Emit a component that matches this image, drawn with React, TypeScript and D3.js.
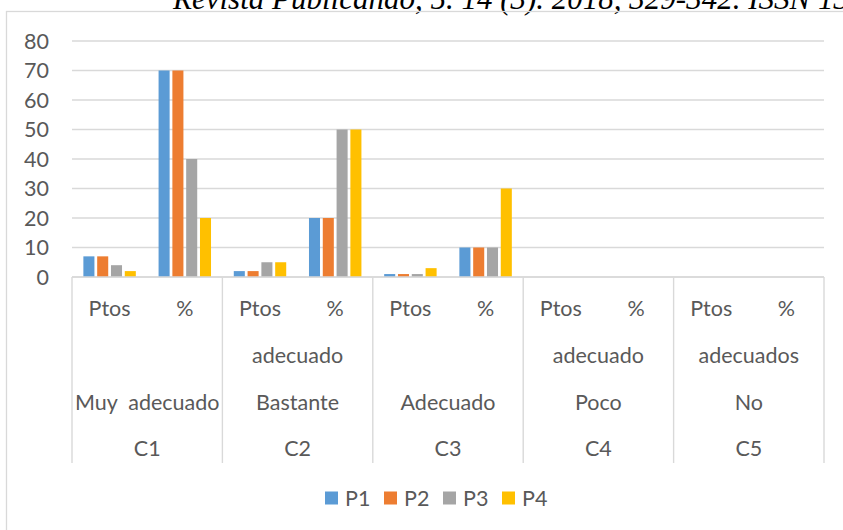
import React from 'react';
import * as d3 from 'd3';

// category labels (multi-level axis)
const groups = ['C1', 'C2', 'C3', 'C4', 'C5'];
const groupLine1 = ['', 'adecuado', '', 'adecuado', 'adecuados'];
const groupLine2 = ['Muy  adecuado', 'Bastante', 'Adecuado', 'Poco', 'No'];
const subLabels = ['Ptos', '%'];

// series values, one per sub-category (C1 Ptos, C1 %, C2 Ptos, ...)
const seriesNames = ['P1', 'P2', 'P3', 'P4'];
const p1 = [7, 70, 2, 20, 1, 10, 0, 0, 0, 0];
const p2 = [7, 70, 2, 20, 1, 10, 0, 0, 0, 0];
const p3 = [4, 40, 5, 50, 1, 10, 0, 0, 0, 0];
const p4 = [2, 20, 5, 50, 3, 30, 0, 0, 0, 0];
const yTicks = [0, 10, 20, 30, 40, 50, 60, 70, 80];

const colors = ['#5B9BD5', '#ED7D31', '#A5A5A5', '#FFC000'];
const textColor = '#595959';
const gridColor = '#d9d9d9';
const font = 'Lato, Calibri, sans-serif';
const fs = 21.5;

export default function App() {
  const width = 843, height = 530;
  const left = 72, right = 824, top = 41, bottom = 277;

  const series = [p1, p2, p3, p4];
  const slots = d3.range(groups.length * subLabels.length);

  const x = d3.scaleBand<number>().domain(slots).range([left, right]).padding(0);
  const xg = d3.scaleBand<string>().domain(groups).range([left, right]).padding(0);
  const inner = d3.scaleBand<string>()
    .domain(seriesNames)
    .range([10, x.bandwidth() - 10])
    .paddingInner(0.2)
    .paddingOuter(0.1);
  const y = d3.scaleLinear().domain([0, 80]).range([bottom, top]);

  const legendX = d3.scalePoint<string>().domain(seriesNames).range([325, 502]);

  return (
    <svg width={width} height={height} style={{ position: 'absolute', left: 0, top: 0 }}>
      <rect width={width} height={height} fill="#fff" />
      <text x={173} y={9} fontFamily="Liberation Serif, serif" fontStyle="italic" fontSize={31} fill="#000">
        Revista Publicando, 5. 14 (3). 2018, 329-342. ISSN 1390-9304
      </text>
      {/* chart area border */}
      <rect x={6.5} y={11.5} width={900} height={600} fill="none" stroke={gridColor} strokeWidth={1.3} />

      {/* gridlines and y labels */}
      {yTicks.map(t => (
        <g key={t}>
          <line x1={left} x2={right} y1={y(t)} y2={y(t)} stroke={gridColor} strokeWidth={1.4} />
          <text x={49} y={y(t)} dy="0.35em" textAnchor="end" fontFamily={font} fontSize={fs} fill={textColor}>{t}</text>
        </g>
      ))}

      {/* bars */}
      {series.map((vals, si) => (
        <g key={si} fill={colors[si]}>
          {vals.map((v, i) => (
            <rect key={i}
              x={(x(i) as number) + (inner(seriesNames[si]) as number)}
              y={y(v)}
              width={inner.bandwidth()}
              height={y(0) - y(v)} />
          ))}
        </g>
      ))}

      {/* category axis */}
      <line x1={left} x2={right} y1={bottom} y2={bottom} stroke={gridColor} strokeWidth={1.4} />
      {[...groups.map(g => xg(g) as number), right].map((gx, i) => (
        <line key={i} x1={gx} x2={gx} y1={bottom} y2={463} stroke={gridColor} strokeWidth={1.4} />
      ))}
      {slots.map(i => (
        <text key={i} x={(x(i) as number) + x.bandwidth() / 2} y={308} dy="0.35em" textAnchor="middle"
          fontFamily={font} fontSize={fs} fill={textColor}>{subLabels[i % 2]}</text>
      ))}
      {groups.map((g, i) => {
        const cx = (xg(g) as number) + xg.bandwidth() / 2;
        return (
          <g key={g} fontFamily={font} fontSize={fs} fill={textColor} textAnchor="middle">
            <text x={cx} y={355} dy="0.35em">{groupLine1[i]}</text>
            <text x={cx} y={402} dy="0.35em" style={{ whiteSpace: 'pre' }}>{groupLine2[i]}</text>
            <text x={cx} y={448} dy="0.35em">{g}</text>
          </g>
        );
      })}

      {/* legend */}
      {seriesNames.map((s, i) => (
        <g key={s} transform={`translate(${legendX(s)},498)`}>
          <rect x={0} y={-6.5} width={13} height={13} fill={colors[i]} />
          <text x={20} y={0} dy="0.35em" fontFamily={font} fontSize={fs} fill={textColor}>{s}</text>
        </g>
      ))}
    </svg>
  );
}
